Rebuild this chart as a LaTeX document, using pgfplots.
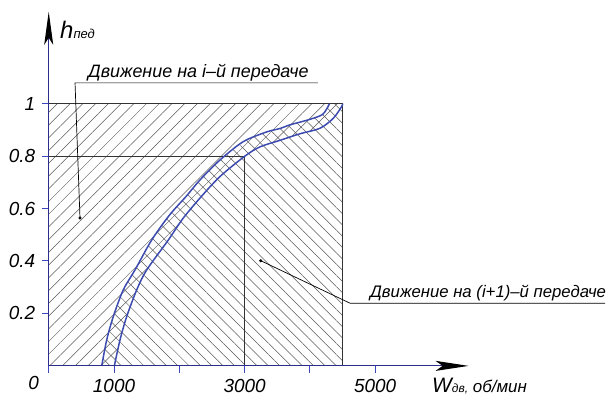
\documentclass[border=0pt]{standalone}
\usepackage{fontspec}
\setmainfont{Liberation Sans}
\usepackage{pgfplots}
\pgfplotsset{compat=1.18}
\usetikzlibrary{arrows.meta,patterns.meta}
\definecolor{axblue}{RGB}{45,45,140}
\definecolor{tkblue}{RGB}{60,70,190}
\definecolor{crv}{RGB}{60,75,175}
\begin{document}
\begin{tikzpicture}
\begin{axis}[
  x=0.0653bp, y=262.3bp,
  xmin=0, xmax=6430, ymin=0, ymax=1.35,
  axis lines=left,
  axis on top=true,
  clip=false,
  x axis line style={draw=axblue, line width=1.2bp, -{Stealth[length=33bp,width=10bp,inset=7bp,color=black]}},
  y axis line style={draw=axblue, line width=1.2bp, -{Stealth[length=33bp,width=9bp,inset=7bp,color=black]}},
  xtick={0,1000,2000,3000,4000,5000},
  xticklabels={,1000,,3000,,5000},
  ytick={0.2,0.4,0.6,0.8,1},
  yticklabels={0.2,0.4,0.6,0.8,1},
  tick align=outside,
  major tick length=7bp,
  tick style={draw=tkblue, line width=1bp},
  tick label style={font=\itshape\fontsize{19}{19}\selectfont, text=black},
  /pgf/number format/assume math mode=true,
  xticklabel style={yshift=-3bp},
  yticklabel style={xshift=-3bp},
]
% invisible frame for the picture size
\path (axis cs:-746,-0.141) rectangle (axis cs:8580,1.395);

% hatch of i-th gear region (/)
\addplot[draw=none, pattern={Lines[angle=45,distance=9bp,line width=0.5bp]}, pattern color=black!65]
 coordinates {(0,0) (1005,0) (1092,0.099) (1194,0.188) (1348,0.290) (1501,0.366) (1832,0.480) (2050,0.56) (2317,0.640) (2623,0.722) (3006,0.800) (3236,0.835) (3542,0.860) (3848,0.885) (4154,0.906) (4358,0.944) (4487,0.989) (4500,1) (0,1)} -- cycle;
% hatch of (i+1)-th gear region (\)
\addplot[draw=none, pattern={Lines[angle=-45,distance=8bp,line width=0.5bp]}, pattern color=black!65]
 coordinates {(812,0) (888,0.099) (989,0.188) (1142,0.290) (1322,0.366) (1577,0.480) (1850,0.575) (2100,0.645) (2317,0.709) (2623,0.785) (2980,0.855) (3338,0.892) (3542,0.905) (3695,0.919) (4001,0.940) (4200,0.960) (4300,1.0) (4500,1) (4500,0)} -- cycle;

% box and 0.8 / 3000 lines
\addplot[draw=black!80, line width=0.8bp] coordinates {(0,1) (4500,1) (4500,0)};
\addplot[draw=black!80, line width=0.8bp] coordinates {(0,0.8) (3000,0.8) (3000,0)};

% curves
\addplot[draw=crv, line width=1.5bp, smooth] coordinates {(812,0) (888,0.099) (989,0.188) (1142,0.290) (1322,0.366) (1577,0.480) (1850,0.575) (2100,0.645) (2317,0.709) (2623,0.785) (2980,0.855) (3338,0.892) (3542,0.905) (3695,0.919) (4001,0.940) (4200,0.960) (4300,1.0)};
\addplot[draw=crv, line width=1.5bp, smooth] coordinates {(1005,0) (1092,0.099) (1194,0.188) (1348,0.290) (1501,0.366) (1832,0.480) (2050,0.56) (2317,0.640) (2623,0.722) (3006,0.800) (3236,0.835) (3542,0.860) (3848,0.885) (4154,0.906) (4358,0.944) (4487,0.989) (4500,1)};

% leader 1
\addplot[draw=black, line width=0.7bp] coordinates {(4123,1.079) (403,1.079) (479,0.564)};
\addplot[only marks, mark=*, mark size=1.3bp, black] coordinates {(479,0.564)};
\node[anchor=base west, inner sep=0pt, font=\itshape\fontsize{18}{18}\selectfont] at (axis cs:602,1.098) {Движение на i–й передаче};

% leader 2
\addplot[draw=black, line width=0.7bp] coordinates {(3247,0.401) (4614,0.239) (8519,0.239)};
\addplot[only marks, mark=*, mark size=1.3bp, black] coordinates {(3247,0.401)};
\node[anchor=base west, inner sep=0pt, font=\itshape\fontsize{16.8}{17}\selectfont] at (axis cs:4920,0.259) {Движение на (i+1)–й передаче};

% origin label
\node[anchor=center, inner sep=0pt, font=\itshape\fontsize{19}{19}\selectfont] at (axis cs:-230,-0.065) {0};

% axis labels
\node[anchor=base west, inner sep=0pt] at (axis cs:173,1.25) {{\itshape\fontsize{24}{24}\selectfont h}{\itshape\fontsize{13}{13}\selectfont пед}};
\node[anchor=base west, inner sep=0pt] at (axis cs:5870,-0.10) {{\itshape\fontsize{21}{21}\selectfont W}{\itshape\fontsize{12}{12}\selectfont дв,}{\itshape\fontsize{17}{17}\selectfont\ об/мин}};
\end{axis}
\end{tikzpicture}
\end{document}
